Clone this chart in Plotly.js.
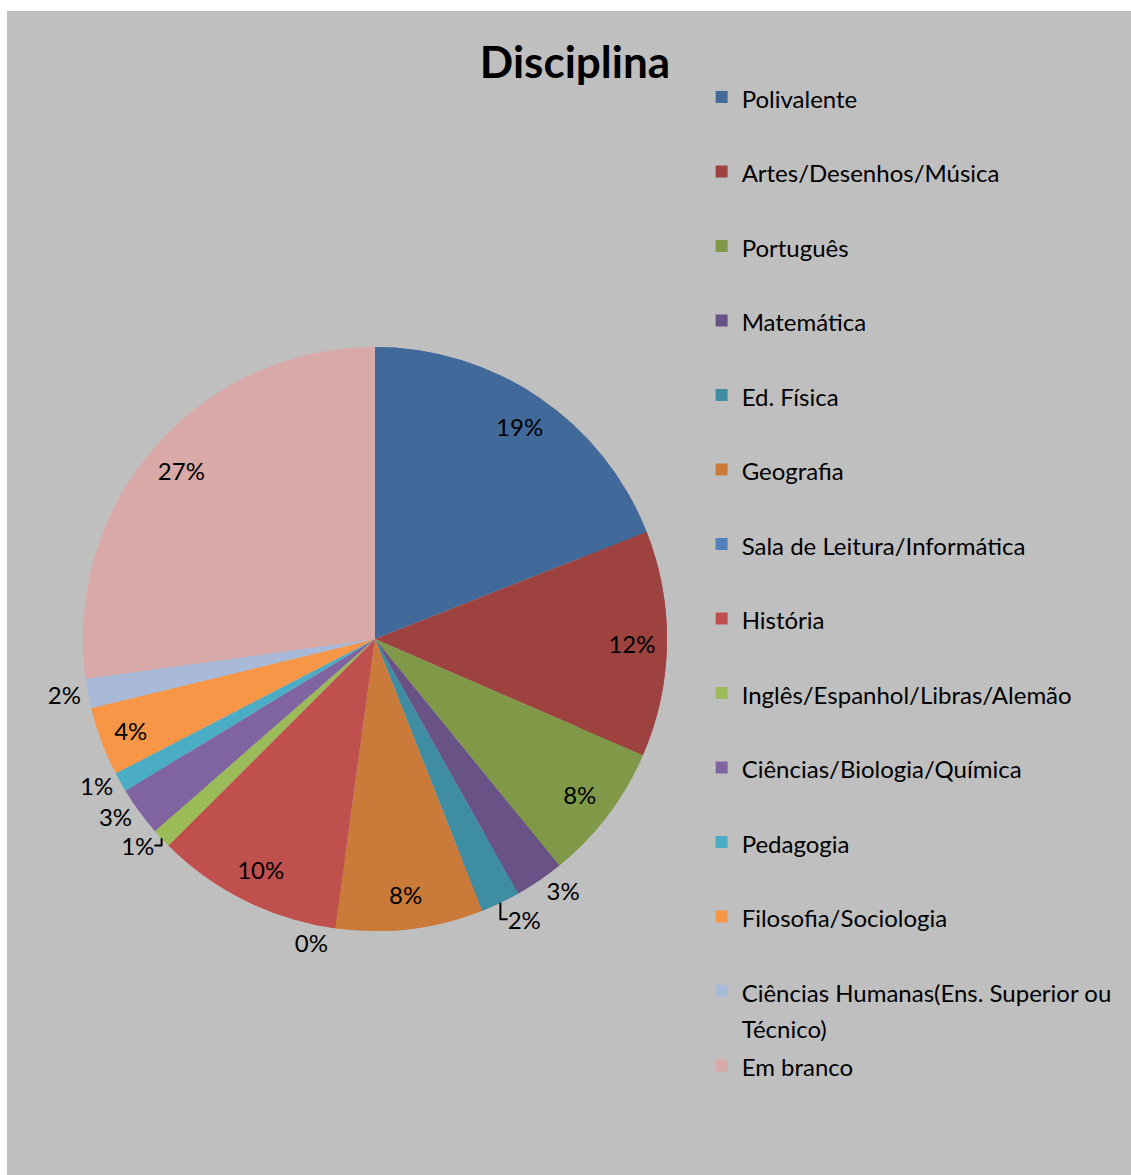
<!DOCTYPE html>
<html>
<head>
<meta charset="utf-8">
<script src="https://cdn.plot.ly/plotly-3.0.1.min.js"></script>
<style>
  html, body { margin: 0; padding: 0; background: #ffffff; }
  #chart { position: absolute; left: 7px; top: 11px; width: 1124px; height: 1164px; }
</style>
</head>
<body>
<div id="chart"></div>
<script>
// Categories (legend order = slice order, clockwise from 12 o'clock)
var categories = [
  "Polivalente",
  "Artes/Desenhos/Música",
  "Português",
  "Matemática",
  "Ed. Física",
  "Geografia",
  "Sala de Leitura/Informática",
  "História",
  "Inglês/Espanhol/Libras/Alemão",
  "Ciências/Biologia/Química",
  "Pedagogia",
  "Filosofia/Sociologia",
  "Ciências Humanas(Ens. Superior ou Técnico)",
  "Em branco"
];
// Counts (percent labels: 19,12,8,3,2,8,0,10,1,3,1,4,2,27)
var counts = [35, 23, 14, 5, 4, 15, 0, 19, 2, 5, 2, 7, 3, 50];

var sliceColors = [
  "#416A9B", "#9D423F", "#7F9949", "#695285", "#3E8DA3", "#CB7B39",
  "#4F81BD", "#C0504D", "#9BBB59", "#8064A2", "#4BACC6", "#F79646",
  "#A9B9D8", "#D9A9A8"
];
var labelPositions = [
  "inside", "inside", "inside", "outside", "outside", "inside",
  "outside", "inside", "outside", "outside", "outside", "inside",
  "outside", "inside"
];

var FONT = "Lato, 'Open Sans', sans-serif";
var TEXT_PX = 24;

// Percent labels rounded half-to-even (as in the original: 12.5% -> 12%)
var total = counts.reduce(function (a, b) { return a + b; }, 0);
var pctText = counts.map(function (v) {
  var p = v / total * 100;
  var f = Math.floor(p), d = p - f, r;
  if (Math.abs(d - 0.5) < 1e-9) r = (f % 2 === 0) ? f : f + 1;
  else r = Math.round(p);
  return r + "%";
});

// Legend entries: two lines each so entries are spread like the original
function legendLabel(name) {
  var l1 = name, l2 = "\u00a0";
  if (name.length > 34) {
    var cut = name.lastIndexOf(" ", 34);
    l1 = name.slice(0, cut);
    l2 = name.slice(cut + 1);
  }
  return '<span style="font-size:' + TEXT_PX + 'px">' + l1 + '</span><br>' +
         '<span style="font-size:' + TEXT_PX + 'px">' + l2 + '</span>';
}
var legendLabels = categories.map(legendLabel);

var dom = { x: [0.0676, 0.5872], y: [0.2096, 0.7113] };

// Full pie (slices + legend)
var pieTrace = {
  type: "pie",
  labels: legendLabels,
  values: counts,
  sort: false,
  direction: "clockwise",
  rotation: 0,
  marker: { colors: sliceColors, line: { width: 0 } },
  textinfo: "none",
  hoverinfo: "percent+value",
  domain: dom,
  automargin: false
};

// Same slices as a ring on top, carrying the percent labels near the rim
var labelRing = {
  type: "pie",
  labels: legendLabels,
  values: counts,
  text: pctText,
  sort: false,
  direction: "clockwise",
  rotation: 0,
  hole: 0.76,
  showlegend: false,
  marker: { colors: sliceColors, line: { width: 0 } },
  texttemplate: "%{text}",
  textposition: labelPositions,
  insidetextorientation: "horizontal",
  textfont: { family: FONT, size: TEXT_PX, color: "#000000" },
  insidetextfont: { family: FONT, size: TEXT_PX, color: "#000000" },
  outsidetextfont: { family: FONT, size: TEXT_PX, color: "#000000" },
  hoverinfo: "percent+value",
  domain: dom,
  automargin: false
};

var layout = {
  width: 1124,
  height: 1164,
  margin: { l: 0, r: 0, t: 0, b: 0 },
  paper_bgcolor: "#bfbfbf",
  plot_bgcolor: "#bfbfbf",
  font: { family: FONT, color: "#000000" },
  title: {
    text: "<b>Disciplina</b>",
    font: { family: FONT, size: 44, color: "#000000" },
    x: 0.5053, xref: "paper", xanchor: "center",
    y: 0.956, yref: "paper", yanchor: "middle"
  },
  showlegend: true,
  legend: {
    x: 0.618, xanchor: "left",
    y: 0.947, yanchor: "top",
    bgcolor: "rgba(0,0,0,0)",
    borderwidth: 0,
    valign: "top",
    font: { family: FONT, size: 27.5, color: "#000000" },
    traceorder: "normal"
  }
};

Plotly.newPlot("chart", [pieTrace, labelRing], layout, { displayModeBar: false, staticPlot: true });
</script>
</body>
</html>
